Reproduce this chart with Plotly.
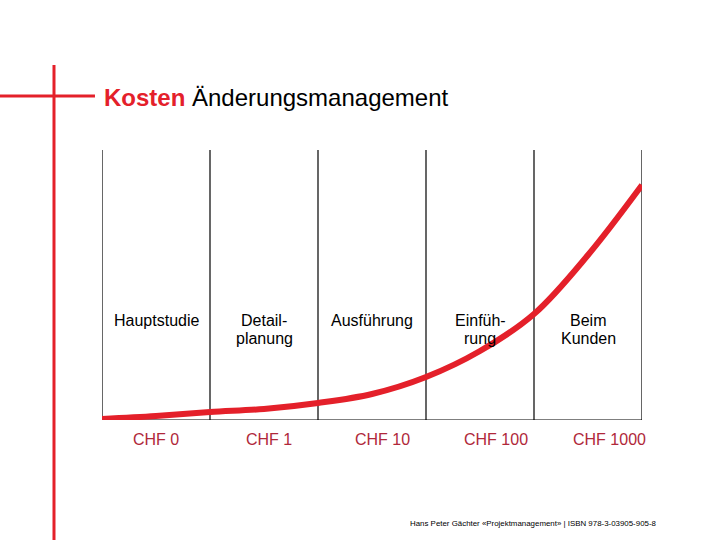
import plotly.graph_objects as go

# Phase columns and labels
phases = ["Hauptstudie", "Detail-<br>planung", "Ausführung", "Einfüh-<br>rung", "Beim<br>Kunden"]
costs = ["CHF 0", "CHF 1", "CHF 10", "CHF 100", "CHF 1000"]
boundaries = [0, 1, 2, 3, 4, 5]

# Cost curve (relative height above baseline)
curve_x = [0, 0.5, 1, 1.5, 2, 2.5, 3, 3.5, 4, 4.5, 5]
curve_y = [1, 4, 8, 11, 17, 26, 43, 69, 106, 165, 235]

title_red = "Kosten"
title_black = "Änderungsmanagement"
footer = "Hans Peter Gächter «Projektmanagement» | ISBN 978-3-03905-905-8"

RED = "#e4202a"
CHF_RED = "#b0283a"
FONT = "Liberation Sans, Arial, sans-serif"

fig = go.Figure()
fig.add_trace(go.Scatter(
    x=curve_x, y=curve_y, mode="lines",
    line=dict(color=RED, width=6, shape="spline", smoothing=1.0),
    hoverinfo="skip", showlegend=False,
))

shapes = []
for b in boundaries:
    shapes.append(dict(type="line", xref="x", yref="y", x0=b, x1=b, y0=0, y1=270,
                       line=dict(color="black", width=1.2), layer="below"))
shapes.append(dict(type="line", xref="x", yref="y", x0=0, x1=5, y0=0, y1=0,
                   line=dict(color="black", width=1.2), layer="below"))
# decorative red cross
shapes.append(dict(type="line", xref="paper", yref="paper", x0=-0.0889, x1=-0.0889,
                   y0=1.315, y1=-0.45, line=dict(color=RED, width=3)))
shapes.append(dict(type="line", xref="paper", yref="paper", x0=-0.2, x1=-0.013,
                   y0=1.2, y1=1.2, line=dict(color=RED, width=3)))

annotations = []
annotations.append(dict(
    xref="paper", yref="paper", x=0.0, y=1.196, xanchor="left", yanchor="middle",
    text=f"<span style='color:{RED}'><b>{title_red}</b></span> {title_black}",
    showarrow=False, font=dict(family=FONT, size=24, color="black"),
))
for i, p in enumerate(phases):
    for j, line in enumerate(p.split("<br>")):
        annotations.append(dict(
            xref="x", yref="y", x=i + 0.5, y=100 - j * 18, xanchor="center", yanchor="middle",
            text=line, showarrow=False, font=dict(family=FONT, size=16, color="black"),
        ))
for i, c in enumerate(costs):
    annotations.append(dict(
        xref="paper", yref="paper", x=(i + 0.5 + 0.05 * i) / 5, y=-20 / 270,
        xanchor="center", yanchor="middle",
        text=c, showarrow=False, font=dict(family=FONT, size=16, color=CHF_RED),
    ))
annotations.append(dict(
    xref="paper", yref="paper", x=(408 - 102) / 540, y=(420 - 523) / 270,
    xanchor="left", yanchor="middle", text=footer, showarrow=False,
    font=dict(family=FONT, size=7.9, color="black"),
))

fig.update_layout(
    width=720, height=540,
    margin=dict(l=102, r=78, t=150, b=120),
    paper_bgcolor="white", plot_bgcolor="white",
    xaxis=dict(range=[0, 5], visible=False, fixedrange=True),
    yaxis=dict(range=[0, 270], visible=False, fixedrange=True),
    shapes=shapes, annotations=annotations,
    showlegend=False,
)
fig.write_html("out.html", config={"displayModeBar": False},
               post_script="document.body.style.margin='0';")
